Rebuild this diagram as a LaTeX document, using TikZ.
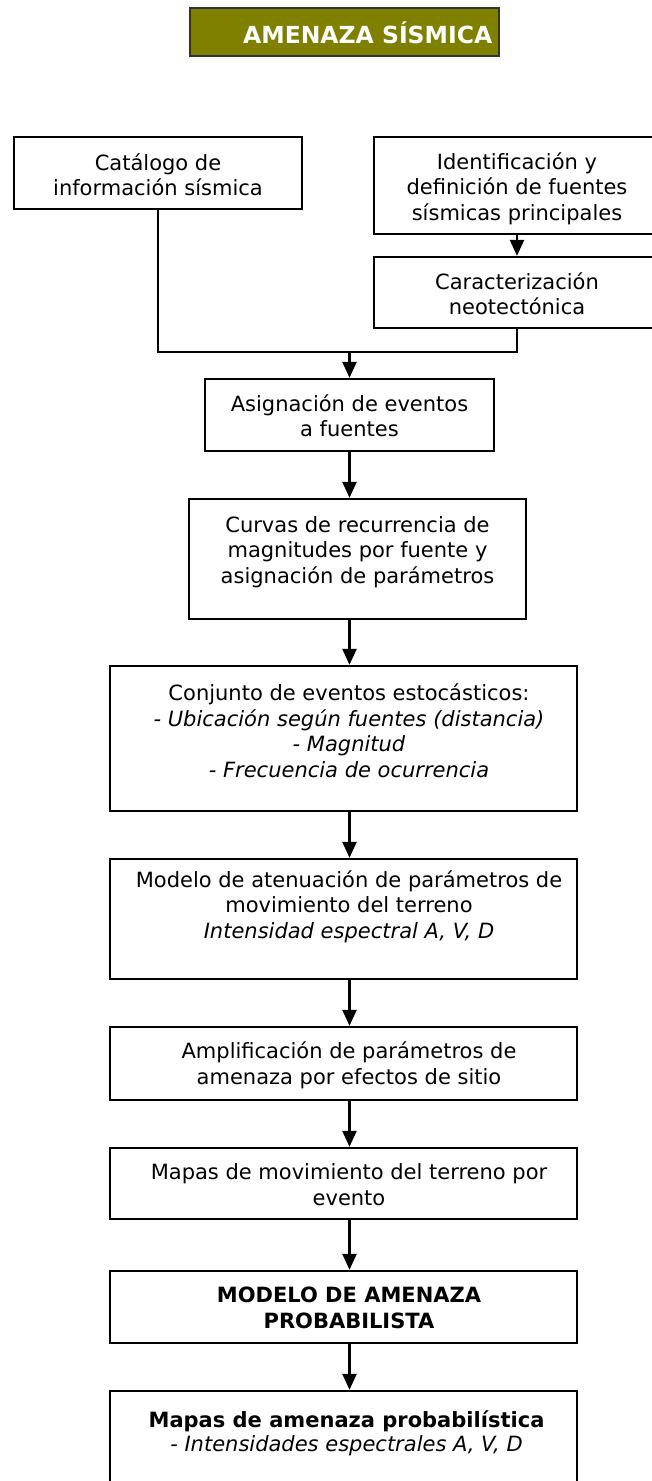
\documentclass[tikz,border=0pt]{standalone}
\usepackage{fontspec}
\setmainfont{DejaVu Sans}
\usetikzlibrary{arrows.meta}
\definecolor{olivo}{RGB}{128,128,0}

\begin{document}
\begin{tikzpicture}[x=1pt,y=-1pt,
  caja/.style={draw,line width=2.3pt,inner sep=0pt},
  texto/.style={font=\fontsize{21}{25.5}\selectfont,align=center,inner sep=0pt,anchor=base},
  flecha/.style={line width=2.3pt,-{Triangle[width=14pt,length=16pt]}}]
	\useasboundingbox (0,0) rectangle (652,1481);
	\clip (0,0) rectangle (652,1481);
	% titulo
	\node[caja,fill=olivo,line width=2pt,draw=black!80,minimum width=309pt,minimum height=48pt] (titulo) at (344.5,32) {};
	\node[anchor=base west,inner sep=0pt,text=white,font=\fontsize{23.5}{28}\selectfont\bfseries] (tituloT) at (243,43) {AMENAZA SÍSMICA};
	% cajas
	\node[caja,minimum width=288pt,minimum height=72pt] (cat) at (158,173) {};
	\node[caja,minimum width=286pt,minimum height=97pt] (ident) at (517,185.5) {};
	\node[caja,minimum width=286pt,minimum height=71pt] (carac) at (517,292.5) {};
	\node[caja,minimum width=289pt,minimum height=72pt] (asig) at (349.5,415) {};
	\node[caja,minimum width=337pt,minimum height=120pt] (curvas) at (357.5,559) {};
	\node[caja,minimum width=467pt,minimum height=145pt] (conj) at (343.5,738.5) {};
	\node[caja,minimum width=467pt,minimum height=120pt] (aten) at (343.5,919) {};
	\node[caja,minimum width=467pt,minimum height=73pt] (ampl) at (343.5,1063.5) {};
	\node[caja,minimum width=467pt,minimum height=71pt] (mapmov) at (343.5,1183.5) {};
	\node[caja,minimum width=467pt,minimum height=72pt] (modelo) at (343.5,1307) {};
	\node[caja,minimum width=467pt,minimum height=160pt] (mapam) at (343.5,1471) {};
	% textos (anclados en la linea base de la ultima linea)
	\node[texto] (catT) at (158,195.5) {Catálogo de\\información sísmica};
	\node[texto] (identT) at (517,220) {Identificación y\\definición de fuentes\\sísmicas principales};
	\node[texto] (caracT) at (517,314.5) {Caracterización\\neotectónica};
	\node[texto] (asigT) at (349.5,436.5) {Asignación de eventos\\a fuentes};
	\node[texto] (curvasT) at (357.5,583) {Curvas de recurrencia de\\magnitudes por fuente y\\asignación de parámetros};
	\node[texto] (conjT) at (349,777) {Conjunto de eventos estocásticos:\\\itshape - Ubicación según fuentes (distancia)\\\itshape - Magnitud\\\itshape - Frecuencia de ocurrencia};
	\node[texto] (atenT) at (349,938) {Modelo de atenuación de parámetros de\\movimiento del terreno\\\itshape Intensidad espectral A, V, D};
	\node[texto] (amplT) at (349,1084) {Amplificación de parámetros de\\amenaza por efectos de sitio};
	\node[texto] (mapmovT) at (349,1205) {Mapas de movimiento del terreno por\\evento};
	\node[texto,font=\fontsize{21}{25.5}\selectfont\bfseries] (modeloT) at (349,1328) {MODELO DE AMENAZA\\PROBABILISTA};
	\node[texto,font=\fontsize{21}{24}\selectfont] (mapamT) at (346.5,1451) {\bfseries Mapas de amenaza probabilística\\\itshape - Intensidades espectrales A, V, D};
	% conectores
	\coordinate (union) at (asig.north |- 0,352);
	\draw[flecha] (ident.south) -- (carac.north);
	\draw[line width=2.3pt] (cat.south) |- (union) -| (carac.south);
	\draw[flecha] (union) -- (asig.north);
	\draw[flecha] (asig.south) -- (asig.south |- curvas.north);
	\draw[flecha] (asig.south |- curvas.south) -- (asig.south |- conj.north);
	\draw[flecha] (asig.south |- conj.south) -- (asig.south |- aten.north);
	\draw[flecha] (asig.south |- aten.south) -- (asig.south |- ampl.north);
	\draw[flecha] (asig.south |- ampl.south) -- (asig.south |- mapmov.north);
	\draw[flecha] (asig.south |- mapmov.south) -- (asig.south |- modelo.north);
	\draw[flecha] (asig.south |- modelo.south) -- (asig.south |- mapam.north);
\end{tikzpicture}
\end{document}
